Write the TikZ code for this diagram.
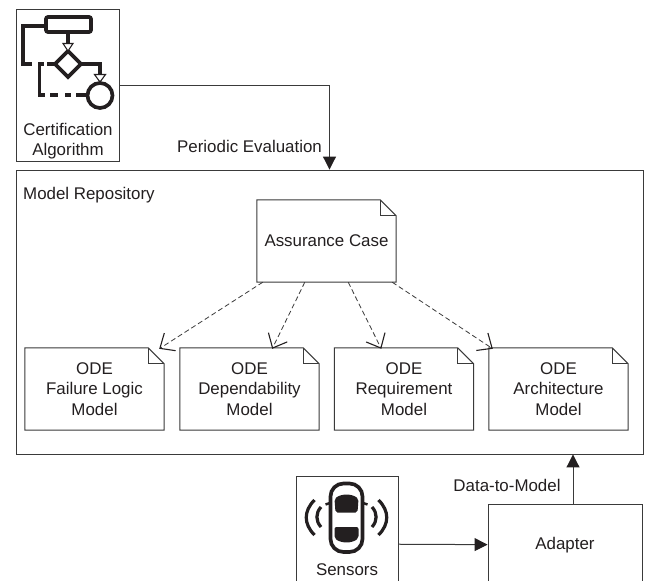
\documentclass[tikz,border=0pt]{standalone}
\usepackage{fontspec}
\setmainfont{Liberation Sans}
\usetikzlibrary{arrows.meta}
\definecolor{inkdark}{HTML}{231F20}
\definecolor{linedark}{HTML}{3A3A3A}
\tikzset{
    plainbox/.style={draw=linedark, line width=0.9pt, fill=white},
    notebox/.style={draw=none, minimum width=139pt, minimum height=82pt, align=center, inner sep=0pt},
    flowline/.style={line width=3.7pt, draw=inkdark},
    flowtip/.style={draw=inkdark, line width=1.1pt, fill=white},
    solidarrow/.style={draw=linedark, line width=1pt, -{Triangle[length=13pt, width=13pt, color=inkdark]}},
    dasharrow/.style={draw=linedark, line width=0.8pt, dash pattern=on 5pt off 3pt, -{Straight Barb[length=12pt, width=21pt, line width=1.1pt, color=inkdark]}}
}
% Folded corner of a note
\newcommand{\notepath}[1]{
    \draw[draw=linedark, line width=1pt] (#1.north west) -- ([xshift=-16pt]#1.north east) -- ([yshift=-16pt]#1.north east) -- (#1.south east) -- (#1.south west) -- cycle;
    \draw[draw=linedark, line width=1pt] ([xshift=-16pt]#1.north east) |- ([yshift=-16pt]#1.north east);
}
\begin{document}
\begin{tikzpicture}[x=1pt, y=-1pt, font=\fontsize{16.9}{20.6}\selectfont, text=inkdark]
    \path[use as bounding box, clip] (0,0) rectangle (646,581);

    % Outer boxes
    \node[plainbox, minimum width=627pt, minimum height=284pt] (repo) at (329.5,312) {};
    \node[plainbox, minimum width=103pt, minimum height=152pt] (cert) at (67.5,85) {};
    \node[plainbox, minimum width=102pt, minimum height=136pt] (sensors) at (347,544) {};
    \node[plainbox, minimum width=154pt, minimum height=82pt] (adapter) at (565,545) {Adapter};

    % Box labels
    \node[align=center, inner sep=0pt] (certlabel) at (68,141) {Certification\\Algorithm};
    \node[inner sep=0pt] (sensorslabel) at (347,570) {Sensors};
    \node[anchor=west, inner sep=0pt] (repolabel) at (23,195) {Model Repository};

    % Notes
    \node[notebox] (assure) at (326.5,241) {Assurance Case};
    \node[notebox] (fail) at (94.5,389) {ODE\\Failure Logic\\Model};
    \node[notebox] (dep) at (249.5,389) {ODE\\Dependability\\Model};
    \node[notebox] (req) at (404,389) {ODE\\Requirement\\Model};
    \node[notebox] (arch) at (558.5,389) {ODE\\Architecture\\Model};
    \foreach \n in {assure, fail, dep, req, arch} {
        \notepath{\n}
    }

    % Dependencies
    \draw[dasharrow] ([xshift=6pt]assure.south west) -- ([xshift=-5pt, yshift=-1pt]fail.north east);
    \draw[dasharrow] ([xshift=48pt]assure.south west) -- ([xshift=-47pt, yshift=-1pt]dep.north east);
    \draw[dasharrow] ([xshift=-48pt]assure.south east) -- ([xshift=47pt, yshift=-1pt]req.north west);
    \draw[dasharrow] ([xshift=-4pt]assure.south east) -- ([xshift=4pt, yshift=-1pt]arch.north west);

    % Control and data flow
    \draw[solidarrow] (cert) -| (repo.north);
    \draw[solidarrow] (sensors) -- (adapter);
    \draw[solidarrow] ([xshift=8pt]adapter.north) -- ([xshift=8pt]adapter.north |- repo.south);

    % Flow labels
    \node[inner sep=0pt] (evallabel) at (249.5,146) {Periodic Evaluation};
    \node[inner sep=0pt] (datalabel) at (507,485) {Data-to-Model};

    % Algorithm icon
    \draw[flowline, rounded corners=2pt] (46,17) rectangle (91,32);
    \draw[flowline] (68,34) -- (68,44);
    \draw[flowline] (68,51) -- ++(13,13) -- ++(-13,13) -- ++(-13,-13) -- cycle;
    \draw[flowline] (81,64) -| (100,74);
    \draw[flowline] (100,95.5) circle (12.5);
    \draw[flowline] (46,26) -| (23,64) -- (32,64);
    \draw[flowline] (38,64) -- (44,64);
    \draw[flowline] (47,64) -- (55,64);
    \draw[flowline] (39.5,64) |- (45,95);
    \draw[flowline] (50,95) -- (58,95);
    \draw[flowline] (65,95) -- (71,95);
    \draw[flowline] (76,95) -- (87,95);
    \draw[flowtip] (63,43.5) -- (73,43.5) -- (68,51) -- cycle;
    \draw[flowtip] (94.5,74.5) -- (105.5,74.5) -- (100,82) -- cycle;

    % Car icon
    \draw[flowline, rounded corners=13pt] (330.5,483.5) rectangle (362.5,552);
    \draw[flowline, line width=2.5pt] (330,503) -- (325.5,504.5);
    \draw[flowline, line width=2.5pt] (363,503) -- (367.5,504.5);
    \fill[inkdark, rounded corners=2pt] (334.5,499) .. controls (341,493.5) and (352,493.5) .. (358.5,499) -- (357.5,512.5) -- (335.5,512.5) -- cycle;
    \fill[inkdark, rounded corners=2pt] (334.5,527) -- (358.5,527) -- (358.5,538) .. controls (352,543.5) and (341,543.5) .. (334.5,538) -- cycle;
    \foreach \s in {1, -1} {
        \draw[inkdark, line width=3.2pt] (346.5+\s*25.5,507) .. controls (346.5+\s*31,513) and (346.5+\s*31,521) .. (346.5+\s*25.5,527);
        \draw[inkdark, line width=3.2pt] (346.5+\s*32,500) .. controls (346.5+\s*43,511) and (346.5+\s*43,524) .. (346.5+\s*32,535);
    }
\end{tikzpicture}
\end{document}
